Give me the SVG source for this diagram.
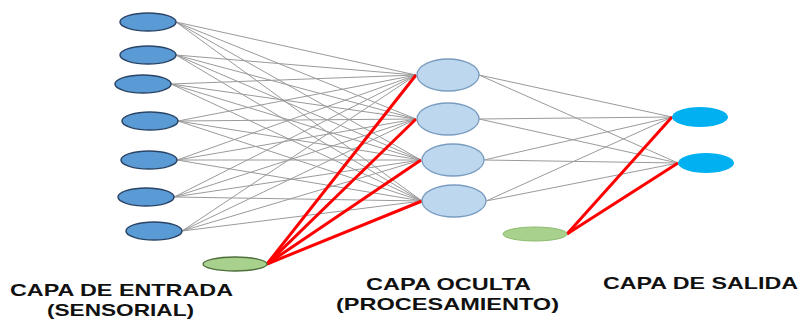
<svg xmlns="http://www.w3.org/2000/svg" width="802" height="320" viewBox="0 0 802 320">
<style>
.in{fill:#5B9BD5;stroke:#2A4466;stroke-width:1.5}
.hid{fill:#BDD7EE;stroke:#7A9CC0;stroke-width:1.3}
.out{fill:#00B0F0;stroke:none}
.bias{fill:#A9D18E;stroke:#4E6E3A;stroke-width:1.3}
.bias2{fill:#A9D18E;stroke:#8DBB6E;stroke-width:1}
.g line{stroke:#9A9A9A;stroke-width:1}
.r line{stroke:#FF0000;stroke-width:3}
text{font-family:"Liberation Sans",Arial,sans-serif;font-weight:bold;font-size:17px;fill:#111}
</style>
<rect width="802" height="320" fill="#fff"/>
<g id="connectors">
<g class="g">
<line x1="176" y1="22" x2="416" y2="75"/><line x1="176" y1="22" x2="416" y2="119"/><line x1="176" y1="22" x2="421" y2="160"/><line x1="176" y1="22" x2="422" y2="201"/>
<line x1="176" y1="55" x2="416" y2="75"/><line x1="176" y1="55" x2="416" y2="119"/><line x1="176" y1="55" x2="421" y2="160"/><line x1="176" y1="55" x2="422" y2="201"/>
<line x1="171" y1="84" x2="416" y2="75"/><line x1="171" y1="84" x2="416" y2="119"/><line x1="171" y1="84" x2="421" y2="160"/><line x1="171" y1="84" x2="422" y2="201"/>
<line x1="178" y1="121" x2="416" y2="75"/><line x1="178" y1="121" x2="416" y2="119"/><line x1="178" y1="121" x2="421" y2="160"/><line x1="178" y1="121" x2="422" y2="201"/>
<line x1="177" y1="160" x2="416" y2="75"/><line x1="177" y1="160" x2="416" y2="119"/><line x1="177" y1="160" x2="421" y2="160"/><line x1="177" y1="160" x2="422" y2="201"/>
<line x1="174" y1="197" x2="416" y2="75"/><line x1="174" y1="197" x2="416" y2="119"/><line x1="174" y1="197" x2="421" y2="160"/><line x1="174" y1="197" x2="422" y2="201"/>
<line x1="182" y1="231" x2="416" y2="75"/><line x1="182" y1="231" x2="416" y2="119"/><line x1="182" y1="231" x2="421" y2="160"/><line x1="182" y1="231" x2="422" y2="201"/>
<line x1="479" y1="75" x2="672" y2="117"/><line x1="479" y1="75" x2="678" y2="163"/>
<line x1="479" y1="119" x2="672" y2="117"/><line x1="479" y1="119" x2="678" y2="163"/>
<line x1="484" y1="160" x2="672" y2="117"/><line x1="484" y1="160" x2="678" y2="163"/>
<line x1="486" y1="201" x2="672" y2="117"/><line x1="486" y1="201" x2="678" y2="163"/>
</g>
<g class="r">
<line x1="267" y1="264" x2="416" y2="75"/><line x1="267" y1="264" x2="416" y2="119"/><line x1="267" y1="264" x2="421" y2="160"/><line x1="267" y1="264" x2="422" y2="201"/>
<line x1="567" y1="234" x2="672" y2="117"/><line x1="567" y1="234" x2="678" y2="163"/>
</g>
</g>
<g id="in1"><ellipse class="in" cx="148" cy="22" rx="28" ry="9"/></g>
<g id="in2"><ellipse class="in" cx="148" cy="55" rx="28" ry="9"/></g>
<g id="in3"><ellipse class="in" cx="143" cy="84" rx="28" ry="9"/></g>
<g id="in4"><ellipse class="in" cx="150" cy="121" rx="28" ry="9"/></g>
<g id="in5"><ellipse class="in" cx="149" cy="160" rx="28" ry="9"/></g>
<g id="in6"><ellipse class="in" cx="146" cy="197" rx="28" ry="9"/></g>
<g id="in7"><ellipse class="in" cx="154" cy="231" rx="28" ry="9"/></g>
<g id="bias1"><ellipse class="bias" cx="235" cy="264" rx="32" ry="7"/></g>
<g id="hid1"><ellipse class="hid" cx="448" cy="75" rx="31" ry="16"/></g>
<g id="hid2"><ellipse class="hid" cx="448" cy="119" rx="31" ry="16"/></g>
<g id="hid3"><ellipse class="hid" cx="453" cy="160" rx="31" ry="16"/></g>
<g id="hid4"><ellipse class="hid" cx="454" cy="201" rx="32" ry="16"/></g>
<g id="bias2"><ellipse class="bias2" cx="535" cy="234" rx="32" ry="7"/></g>
<g id="out1"><ellipse class="out" cx="700" cy="117" rx="28" ry="10"/></g>
<g id="out2"><ellipse class="out" cx="706" cy="163" rx="28" ry="10"/></g>
<g id="labels">
<text x="10" y="296" textLength="223" lengthAdjust="spacingAndGlyphs">CAPA DE ENTRADA</text>
<text x="47" y="316" textLength="147" lengthAdjust="spacingAndGlyphs">(SENSORIAL)</text>
<text x="366" y="290" textLength="165" lengthAdjust="spacingAndGlyphs">CAPA OCULTA</text>
<text x="336" y="310" textLength="223" lengthAdjust="spacingAndGlyphs">(PROCESAMIENTO)</text>
<text x="603" y="289" textLength="195" lengthAdjust="spacingAndGlyphs">CAPA DE SALIDA</text>
</g>
</svg>
